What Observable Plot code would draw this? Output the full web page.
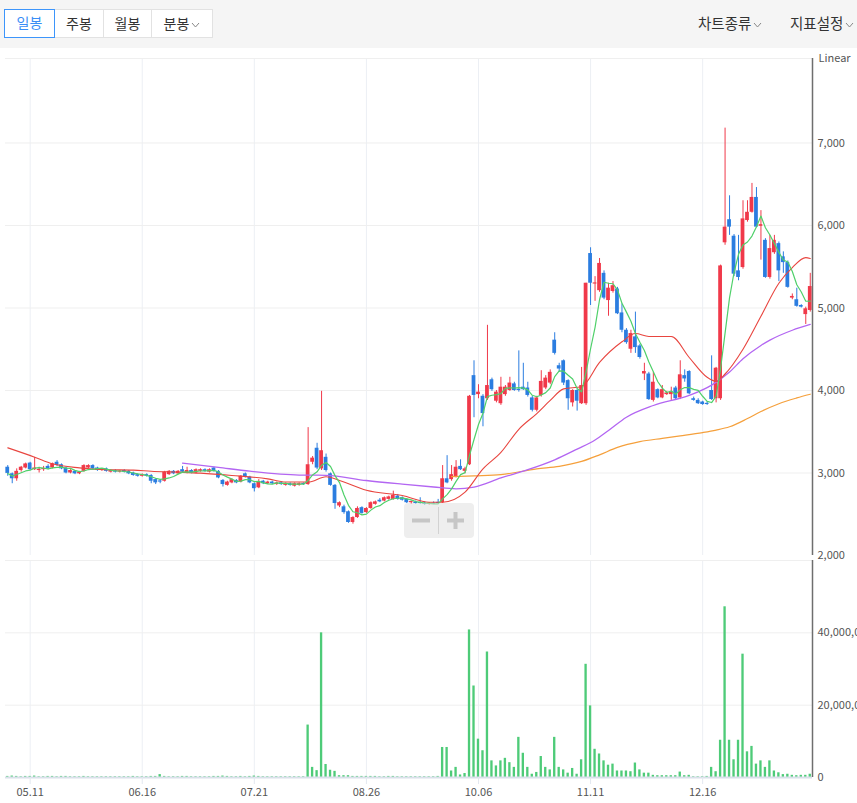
<!DOCTYPE html>
<html><head><meta charset="utf-8">
<script src="https://cdn.jsdelivr.net/npm/d3@7"></script>
<script src="https://cdn.jsdelivr.net/npm/@observablehq/plot@0.6"></script>
<style>
body{margin:0;width:857px;height:803px;overflow:hidden;background:#fff;position:relative;font-family:"Noto Sans CJK KR","Noto Sans",sans-serif}
#top{position:absolute;left:0;top:0;width:857px;height:48px;background:#f5f5f5}
.b{position:absolute;top:9px;box-sizing:border-box;height:29px;border:1px solid #e2e2e2;background:#fff;font-size:14px;line-height:26px;text-align:center;color:#333}
.b.on{border:none;box-shadow:inset 0 0 0 1px #3d95fb;color:#3a8ef6;z-index:2}
.menu{position:absolute;top:12px;font-size:14.5px;color:#333;white-space:nowrap;line-height:22px}
.chev{display:inline-block;margin-left:2px;vertical-align:middle}
#price{position:absolute;left:0;top:48px}
#vol{position:absolute;left:0;top:558px}
#zc{position:absolute;left:404px;top:503px;width:70px;height:35px;background:rgba(222,222,222,0.5);border-radius:4px}
</style></head>
<body>
<div id="top">
  <div class="b on" style="left:4px;width:51px">일봉</div>
  <div class="b" style="left:54px;width:50px">주봉</div>
  <div class="b" style="left:103px;width:49px">월봉</div>
  <div class="b" style="left:151px;width:62px">분봉<svg class="chev" width="9" height="6"><polyline points="1,1 4.5,5 8,1" fill="none" stroke="#888" stroke-width="1"/></svg></div>
  <div class="menu" style="left:698px">차트종류<svg class="chev" width="9" height="6"><polyline points="1,1 4.5,5 8,1" fill="none" stroke="#888" stroke-width="1"/></svg></div>
  <div class="menu" style="left:790px">지표설정<svg class="chev" width="9" height="6"><polyline points="1,1 4.5,5 8,1" fill="none" stroke="#888" stroke-width="1"/></svg></div>
</div>
<div id="price"></div>
<div id="vol"></div>
<div id="zc"><svg width="70" height="35">
  <line x1="8" y1="17.5" x2="26" y2="17.5" stroke="#c6c6c6" stroke-width="4"/>
  <line x1="34.5" y1="4" x2="34.5" y2="31" stroke="#d2d2d2" stroke-width="1"/>
  <line x1="43" y1="17.5" x2="60" y2="17.5" stroke="#c6c6c6" stroke-width="4"/>
  <line x1="51.5" y1="9" x2="51.5" y2="26" stroke="#c6c6c6" stroke-width="4"/>
</svg></div>
<script>
// ---- data (trading-day index 0..179) ----
const dateIdx = [5, 30, 55, 80, 105, 130, 155];
const dateLabels = ["05.11", "06.16", "07.21", "08.26", "10.06", "11.11", "12.16"];
const priceTicks = [2000, 3000, 4000, 5000, 6000, 7000];
const volTicks = [0, 20, 40]; // millions

const opens = [3070,2990,2930,3030,3060,3120,3040,3030,3040,3080, 3060,3130,3100,3060,3000,3020,2990,3020,3060,3090, 3060,3030,3050,3010,3030,3010,3030,3020,3000,2980, 2960,2980,2970,2920,2900,2900,2980,3020,2990,3040, 3000,3030,3000,3020,3040,3010,3060,3020,2910,2850, 2880,2910,2890,2990,2950,2870,2820,2900,2870,2890, 2860,2880,2850,2870,2840,2850,2870,2860,3130,3300, 3050,3190,2990,2850,2600,2590,2530,2400,2460,2580, 2520,2570,2620,2670,2660,2680,2680,2720,2700,2680, 2640,2650,2640,2630,2620,2630,2640,2640,2930,2920, 2950,3080,3020,3100,4180,3950,3930,3900,4130,3870, 3840,3950,4000,4080,4010,4040,4030,3910,3760,3940, 4030,4090,4610,4300,4360,4120,3850,4000,3840,3840, 5660,5290,5210,5420,5090,5200,5230,4940,4730,4500, 4650,4540,4200,4200,3880,4010,3910,3950,3950,4030, 3910,4180,4230,3900,3880,3860,3840,4000,3900,3900, 5790,6070,5870,5450,5490,6060,6160,6340,5990,5820, 5370,5670,5780,5620,5550,5120,5100,5030,4920,4970];
const highs = [3090,3000,3050,3080,3120,3130,3190,3070,3080,3100, 3120,3150,3110,3070,3040,3030,3020,3100,3100,3100, 3070,3050,3060,3040,3040,3030,3040,3030,3010,2990, 2990,2990,2980,2930,2920,3020,3030,3030,3030,3080, 3070,3040,3050,3050,3050,3050,3070,3030,2920,2900, 2930,2920,2970,3000,2960,2880,2920,2910,2900,2900, 2890,2890,2880,2880,2880,2880,2880,3550,3200,3360, 3990,3230,3000,2860,2650,2610,2540,2470,2590,2590, 2580,2650,2660,2690,2710,2720,2780,2740,2710,2690, 2660,2660,2700,2650,2640,2650,2680,3090,3210,3090, 3150,3160,3070,3940,4360,4070,3950,4790,4150,4000, 4160,4060,4160,4100,4480,4330,4100,3930,3930,4240, 4180,4250,4700,4330,4370,4130,4010,4010,4280,5300, 5730,5380,5600,5450,5300,5320,5250,5050,4750,4730, 4950,4560,4330,4220,4220,4020,4060,3990,4040,4050, 4360,4250,4240,3920,3900,3870,3860,4420,4280,5520, 7180,6360,5890,5880,6300,6300,6510,6460,6180,5840, 5880,5880,5800,5680,5570,5170,5240,5040,5010,5420];
const lows = [2960,2870,2900,3010,3050,3030,3030,3000,3020,3040, 3050,3080,3040,2990,2990,2980,2980,3010,3050,3040, 3020,3020,3010,3000,3000,3000,3000,2980,2960,2950, 2950,2950,2870,2860,2870,2890,2970,2980,2980,3000, 2990,2990,2990,3010,3010,3000,3010,2930,2830,2840, 2870,2870,2880,2940,2870,2770,2810,2860,2860,2860, 2850,2850,2840,2840,2830,2840,2850,2850,3100,3040, 3030,3010,2840,2560,2580,2500,2390,2380,2450,2500, 2510,2560,2610,2640,2650,2670,2670,2670,2660,2630, 2620,2620,2620,2610,2610,2620,2620,2630,2870,2900, 2940,3030,2990,3090,3670,3900,3560,3880,3990,3850, 3820,3930,3990,3990,3980,4000,3920,3740,3740,3920, 4010,4070,4430,4220,4060,3760,3800,3750,3830,3820, 5030,5080,5190,5100,4900,5180,4920,4700,4560,4450, 4450,4380,4120,3880,3860,3900,3900,3940,3880,3890, 3890,4100,3950,3870,3830,3820,3820,3880,3850,3880, 5760,5880,5380,5330,5470,6040,6150,5970,5580,5360, 5350,5650,5320,5420,5240,5100,5010,5000,4800,4950];
const closes = [2995,2930,3020,3070,3110,3040,3060,3040,3050,3050, 3110,3090,3050,3000,3030,2990,3010,3090,3090,3050, 3030,3040,3020,3030,3010,3020,3010,2990,2970,2960, 2980,2960,2900,2880,2890,3010,3020,2990,3020,3010, 3030,3000,3040,3040,3020,3040,3020,2940,2860,2890, 2920,2880,2960,2950,2880,2810,2890,2870,2890,2870, 2880,2860,2870,2850,2870,2870,2860,3100,3180,3060, 3270,3030,2850,2630,2640,2520,2400,2460,2570,2510, 2570,2640,2650,2650,2700,2710,2730,2680,2670,2640, 2650,2630,2630,2620,2630,2620,2630,2930,2880,2980, 3070,3040,3050,3930,3940,3980,3720,4060,4010,3980, 4040,4040,4090,4000,4000,4010,3940,3760,3910,4110, 4150,4220,4450,4260,4090,3900,4000,3870,4060,5300, 5300,5300,5540,5120,5240,5270,4930,4730,4580,4690, 4520,4400,4230,3890,4100,3910,4010,3970,3980,3900, 4190,4140,3960,3880,3840,3830,3830,3890,4270,5510, 5980,5980,5410,5370,6080,6160,6340,5980,6010,5370, 5720,5820,5450,5550,5250,5140,5020,5010,4990,5260];
const volumeM = [0.3,0.4,0.3,0.2,0.3,0.3,0.4,0.2,0.2,0.3, 0.3,0.2,0.3,0.3,0.2,0.2,0.2,0.3,0.2,0.2, 0.2,0.2,0.2,0.2,0.2,0.2,0.2,0.2,0.3,0.2, 0.2,0.2,0.3,0.3,0.8,0.3,0.2,0.2,0.2,0.3, 0.3,0.2,0.2,0.2,0.2,0.2,0.3,0.3,0.4,0.3, 0.2,0.2,0.3,0.2,0.3,0.4,0.3,0.2,0.2,0.2, 0.2,0.2,0.2,0.2,0.2,0.2,0.2,14.5,2.8,1.9, 40.0,3.6,2.0,1.7,0.5,0.5,0.5,0.3,0.3,0.3, 0.3,0.3,0.3,0.2,0.2,0.3,0.3,0.2,0.2,0.2, 0.2,0.2,0.2,0.2,0.2,0.2,0.3,8.3,8.3,1.8, 2.8,0.7,1.1,40.8,25.3,10.6,7.4,34.7,4.6,3.2, 4.6,5.3,4.1,2.8,11.1,6.7,2.8,0.9,1.4,5.8, 2.8,2.1,11.1,2.8,2.1,1.2,2.5,0.9,4.9,31.3, 19.8,7.8,6.5,4.6,3.4,3.7,1.8,1.8,1.8,1.6, 4.0,2.1,1.2,1.2,0.6,0.5,0.5,0.5,0.5,0.5, 1.5,0.5,0.6,0.2,0.2,0.2,0.3,2.8,1.6,10.3, 47.2,10.3,4.9,10.3,34.1,7.1,8.6,3.7,4.6,2.8, 4.6,1.8,1.3,0.8,0.9,0.6,0.5,0.6,0.6,0.9];

// moving averages (index, value)
const ma20Idx = [0,6,10,16,22,28,32,38,43,50,58,62,67,71,74,80,88,94,97,102,106,110,114,118,121,124,128,132,137,140,143,148,152,156,158,160,164,168,172,175,178,179];
const ma20Val = [3305,3192,3111,3062,3040,3035,3022,3010,2998,2970,2929,2890,2890,2955,2909,2790,2727,2646,2646,2768,3050,3250,3530,3720,3880,4020,4045,4340,4590,4690,4655,4654,4400,4160,4110,4200,4500,4900,5300,5490,5610,5600];
const ma60Idx = [39,47,54,65,71,80,88,95,100,104,110,116,122,127,131,134,138,144,152,157,161,164,168,170,175,179];
const ma60Val = [3120,3068,3022,2975,2972,2909,2865,2830,2808,2830,2940,3040,3160,3290,3400,3515,3676,3818,3940,4065,4225,4384,4545,4610,4730,4800];
const ma120Idx = [99,104,110,118,123,128,132,136,141,146,150,155,158,161,165,168,172,176,179];
const ma120Val = [2955,2965,2980,3050,3080,3140,3220,3310,3380,3420,3450,3490,3520,3560,3660,3745,3840,3910,3955];

// ---- build ----
const RED = "#f0394a", BLUE = "#2b7de0", GRID = "#eceff4";
const bars = opens.map((o, i) => ({i, o, h: highs[i], l: lows[i], c: closes[i], v: volumeM[i]}));
const isUp = d => d.c >= d.o;
const ma20 = ma20Idx.map((i, k) => ({i, v: ma20Val[k]}));
const ma60 = ma60Idx.map((i, k) => ({i, v: ma60Val[k]}));
const ma120 = ma120Idx.map((i, k) => ({i, v: ma120Val[k]}));
const X0 = -0.5, X1 = 179.5, YTOP = 8024;
const font = "'Noto Sans CJK KR','Noto Sans',sans-serif";

const pricePlot = Plot.plot({
  width: 857, height: 510,
  marginTop: 10, marginBottom: 3, marginLeft: 5, marginRight: 45,
  x: {domain: [X0, X1], axis: null},
  y: {domain: [2000, YTOP], label: null},
  color: {type: "identity"},
  style: {fontFamily: font, fontSize: "11px", color: "#555", background: "transparent", overflow: "visible"},
  marks: [
    Plot.gridX(dateIdx, {stroke: GRID, strokeOpacity: 1}),
    Plot.gridY(priceTicks.slice(1), {stroke: "#efefef", strokeOpacity: 1}),
    Plot.ruleY([YTOP], {stroke: "#efefef"}),
    Plot.ruleX(bars, {x: "i", y1: "l", y2: "h", stroke: d => isUp(d) ? RED : BLUE, strokeWidth: 1}),
    Plot.rect(bars, {
      x1: d => d.i - 0.42, x2: d => d.i + 0.42,
      y1: d => Math.min(d.o, d.c),
      y2: d => Math.max(Math.max(d.o, d.c), Math.min(d.o, d.c) + 14),
      fill: d => isUp(d) ? RED : BLUE
    }),
    Plot.line(ma120, {x: "i", y: "v", stroke: "#f5a03c", strokeWidth: 1.2, curve: "monotone-x"}),
    Plot.line(ma60, {x: "i", y: "v", stroke: "#b366f2", strokeWidth: 1.3, curve: "monotone-x"}),
    Plot.line(ma20, {x: "i", y: "v", stroke: "#e8453f", strokeWidth: 1.1, curve: "monotone-x"}),
    Plot.lineY(bars, Plot.windowY({k: 5, anchor: "end"}, {x: "i", y: "c", stroke: "#4fd06a", strokeWidth: 1.2})),
    Plot.ruleX([X1], {stroke: "#6e6e6e", strokeWidth: 1.5}),
    Plot.axisY(priceTicks, {anchor: "right", tickSize: 0, tickPadding: 5, tickFormat: d3.format(","), label: null}),
    Plot.text(["Linear"], {text: d => d, frameAnchor: "top-right", dx: 6, dy: -4, textAnchor: "start", fill: "#555"})
  ]
});
document.getElementById("price").appendChild(pricePlot);

const volPlot = Plot.plot({
  width: 857, height: 245,
  marginTop: 2, marginBottom: 26, marginLeft: 5, marginRight: 45,
  x: {domain: [X0, X1], label: null},
  y: {domain: [0, 60], label: null},
  style: {fontFamily: font, fontSize: "11px", color: "#555", background: "transparent", overflow: "visible"},
  marks: [
    Plot.gridX(dateIdx, {stroke: GRID, strokeOpacity: 1}),
    Plot.gridY([20, 40, 60], {stroke: "#efefef", strokeOpacity: 1}),
    Plot.rect(bars, {x1: d => d.i - 0.26, x2: d => d.i + 0.26, y1: 0, y2: "v", fill: "#4ecb78"}),
    Plot.ruleY([0], {stroke: "#d9e0ea", strokeWidth: 2}),
    Plot.ruleX([X1], {stroke: "#6e6e6e", strokeWidth: 1.5}),
    Plot.axisY(volTicks, {anchor: "right", tickSize: 0, tickPadding: 5, label: null, tickFormat: d => d3.format(",")(d * 1e6)}),
    Plot.axisX(dateIdx, {anchor: "bottom", tickSize: 7, tickPadding: 4, stroke: "#e3e8f0", label: null,
      tickFormat: d => dateLabels[dateIdx.indexOf(d)]})
  ]
});
document.getElementById("vol").appendChild(volPlot);
</script>
</body></html>
